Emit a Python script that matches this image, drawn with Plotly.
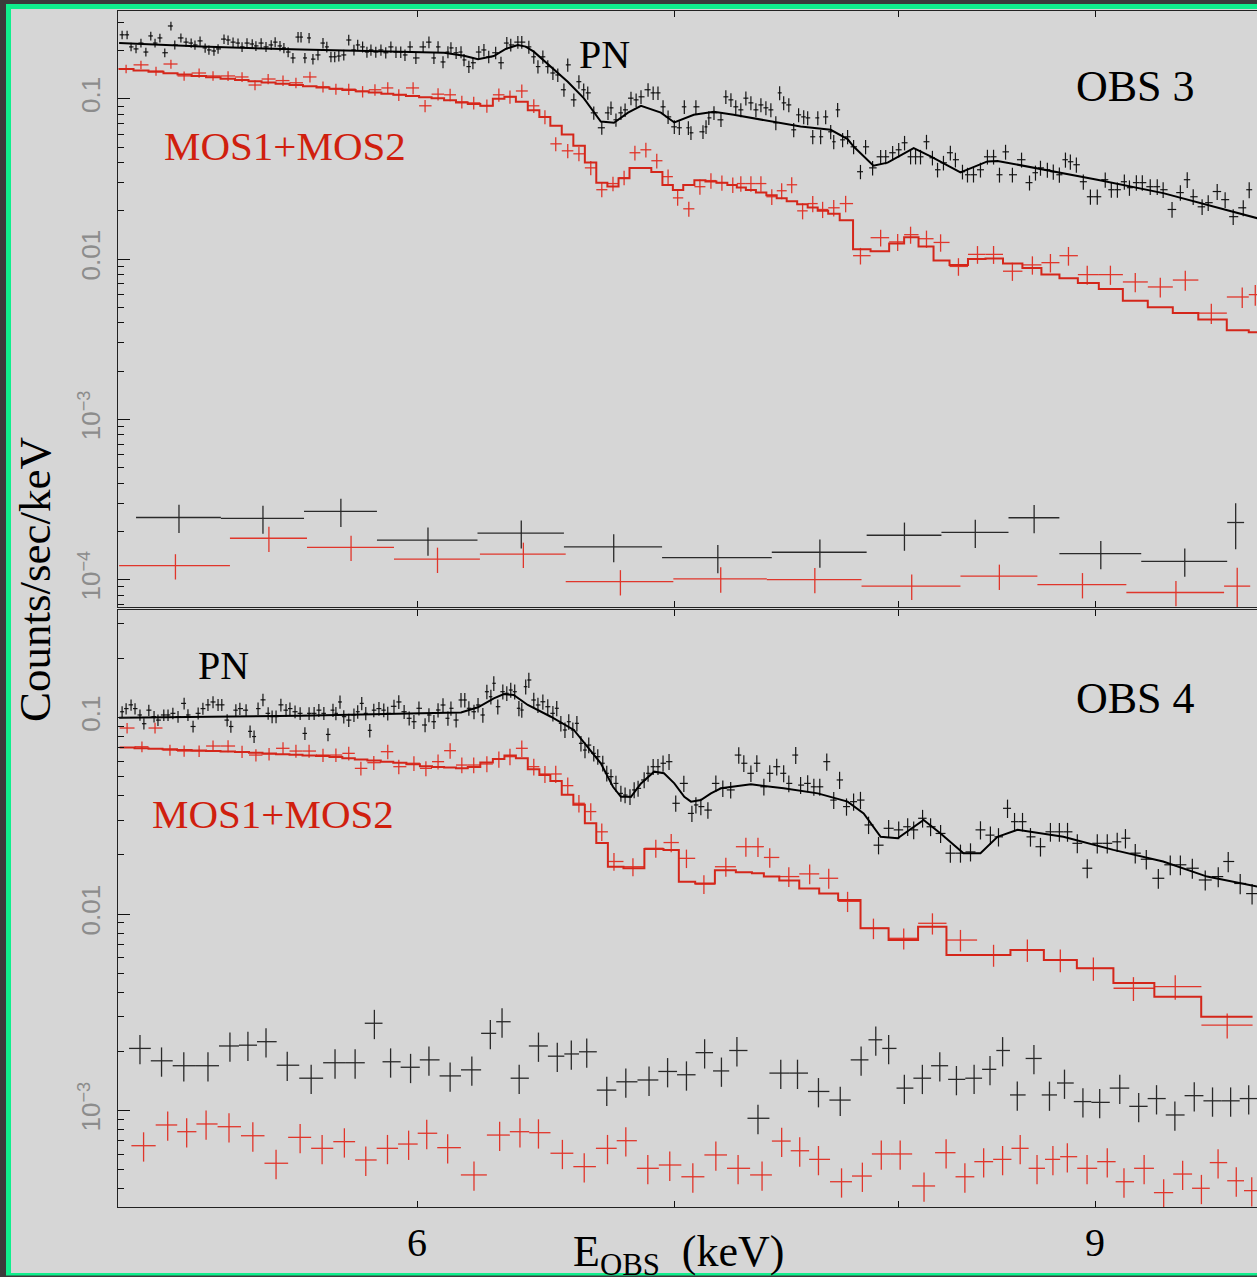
import numpy as np
import plotly.graph_objects as go

# ------------------------------------------------------------------ data
# OBS 3 (top panel) -------------------------------------------------------
obs3_pn_energy = [
    5.030, 5.045, 5.057, 5.072, 5.087, 5.102, 5.117, 5.130, 5.145, 5.160,
    5.179, 5.191, 5.210, 5.226, 5.242, 5.254, 5.270, 5.286, 5.298, 5.314,
    5.327, 5.346, 5.359, 5.375, 5.391, 5.404, 5.420, 5.437, 5.449, 5.466,
    5.482, 5.499, 5.512, 5.528, 5.541, 5.555, 5.571, 5.588, 5.598, 5.611,
    5.625, 5.638, 5.655, 5.672, 5.685, 5.699, 5.712, 5.726, 5.743, 5.760,
    5.778, 5.791, 5.808, 5.823, 5.837, 5.854, 5.872, 5.889, 5.907, 5.925,
    5.942, 5.957, 5.975, 5.996,
    6.022, 6.043, 6.061, 6.076, 6.094, 6.112, 6.123, 6.142, 6.160, 6.171,
    6.189, 6.204, 6.226, 6.245, 6.263, 6.289, 6.309, 6.331, 6.346, 6.373,
    6.388, 6.415, 6.434, 6.450, 6.469, 6.488, 6.508, 6.527, 6.551, 6.566,
    6.590, 6.610, 6.629, 6.645, 6.669, 6.701, 6.726, 6.738, 6.758, 6.778,
    6.795, 6.819, 6.840, 6.860, 6.889, 6.910, 6.930, 6.951, 6.972, 6.998,
    7.019, 7.040, 7.057, 7.068, 7.089, 7.119, 7.132, 7.144, 7.166, 7.196,
    7.217, 7.239, 7.260, 7.282, 7.304, 7.326, 7.348, 7.370, 7.392, 7.414,
    7.436, 7.453, 7.471, 7.494, 7.516, 7.538, 7.561, 7.579, 7.602, 7.625,
    7.638, 7.661, 7.684, 7.698, 7.716, 7.739, 7.762,
    7.790, 7.822, 7.846, 7.879, 7.917, 7.941, 7.974, 8.003, 8.031, 8.060,
    8.084, 8.108, 8.137, 8.166, 8.191, 8.220, 8.254, 8.279, 8.314, 8.339,
    8.369, 8.404, 8.439, 8.470, 8.500, 8.531, 8.566, 8.613, 8.654, 8.685,
    8.711, 8.747, 8.778, 8.810, 8.842, 8.868, 8.900, 8.937, 8.975, 9.012,
    9.055, 9.088, 9.121, 9.159, 9.187, 9.225, 9.258, 9.302, 9.341, 9.374,
    9.424, 9.471, 9.510, 9.544, 9.595, 9.630, 9.682, 9.728, 9.775, 9.834,
    9.869,
]
obs3_pn_rate = [
    0.251, 0.251, 0.211, 0.205, 0.223, 0.196, 0.247, 0.223, 0.240, 0.194,
    0.285, 0.217, 0.240, 0.226, 0.223, 0.217, 0.230, 0.208, 0.202, 0.199,
    0.205, 0.236, 0.233, 0.226, 0.223, 0.211, 0.223, 0.220, 0.214, 0.223,
    0.211, 0.217, 0.226, 0.214, 0.208, 0.196, 0.180, 0.243, 0.243, 0.180,
    0.240, 0.177, 0.188, 0.223, 0.211, 0.183, 0.183, 0.185, 0.188, 0.233,
    0.202, 0.217, 0.211, 0.196, 0.202, 0.196, 0.202, 0.194, 0.211, 0.196,
    0.196, 0.188, 0.211, 0.180,
    0.211, 0.226, 0.180, 0.211, 0.170, 0.196, 0.208, 0.194, 0.196, 0.175,
    0.159, 0.168, 0.196, 0.202, 0.183, 0.194, 0.168, 0.223, 0.217, 0.226,
    0.226, 0.211, 0.183, 0.159, 0.183, 0.159, 0.145, 0.141, 0.114, 0.163,
    0.0986, 0.128, 0.114, 0.109, 0.0818, 0.0660, 0.0818, 0.0879, 0.0740, 0.0818,
    0.0854, 0.101, 0.0986, 0.103, 0.114, 0.109, 0.109, 0.0892, 0.0772, 0.0669,
    0.0660, 0.0892, 0.0660, 0.0614, 0.0892, 0.0623, 0.0669, 0.0761, 0.0818, 0.0740,
    0.103, 0.0986, 0.0892, 0.0854, 0.101, 0.0944, 0.0854, 0.0917, 0.0879, 0.0854,
    0.0709, 0.109, 0.0944, 0.0917, 0.0641, 0.0795, 0.0772, 0.0761, 0.0580, 0.0761,
    0.0580, 0.0772, 0.0623, 0.0540, 0.0854, 0.0555, 0.0580,
    0.0502, 0.0351, 0.0502, 0.0371, 0.0435, 0.0435, 0.0461, 0.0481, 0.0532, 0.0435,
    0.0435, 0.0435, 0.0540, 0.0429, 0.0361, 0.0399, 0.0461, 0.0417, 0.0351, 0.0336,
    0.0336, 0.0361, 0.0435, 0.0435, 0.0336, 0.0467, 0.0336, 0.0417, 0.0300, 0.0346,
    0.0371, 0.0361, 0.0351, 0.0336, 0.0417, 0.0405, 0.0388, 0.0304, 0.0245, 0.0245,
    0.0313, 0.0271, 0.0271, 0.0304, 0.0279, 0.0300, 0.0300, 0.0283, 0.0283, 0.0271,
    0.0204, 0.0260, 0.0313, 0.0245, 0.0212, 0.0225, 0.0264, 0.0235, 0.0184, 0.0209,
    0.0271,
]
obs3_pn_model_energy = [
    5.021, 5.273, 5.598, 5.942, 6.098, 6.171, 6.223, 6.282, 6.327, 6.373,
    6.403, 6.434, 6.500, 6.566, 6.629, 6.697, 6.750, 6.807, 6.860, 6.942,
    6.998, 7.080, 7.166, 7.251, 7.547, 7.684, 7.762, 7.790, 7.883, 7.950,
    8.075, 8.157, 8.304, 8.439, 8.490, 9.012, 9.374, 9.916,
]
obs3_pn_model_rate = [
    0.223, 0.212, 0.203, 0.197, 0.194, 0.186, 0.177, 0.185, 0.205, 0.217,
    0.212, 0.197, 0.159, 0.128, 0.101, 0.0722, 0.0709, 0.082, 0.0905, 0.082,
    0.0712, 0.0795, 0.083, 0.0795, 0.0672, 0.0641, 0.0561, 0.0504, 0.0383, 0.040,
    0.0493, 0.0437, 0.0348, 0.0407, 0.041, 0.0313, 0.0258, 0.018,
]
obs3_mos_energy = [
    5.042, 5.087, 5.133, 5.179, 5.220, 5.267, 5.311, 5.359, 5.404, 5.446,
    5.489, 5.538, 5.581, 5.628, 5.672, 5.716, 5.760, 5.808, 5.851, 5.896,
    5.935, 5.986, 6.029, 6.076, 6.120, 6.163, 6.207, 6.256, 6.301, 6.343,
    6.388, 6.434, 6.477, 6.519, 6.566, 6.610, 6.657, 6.701, 6.746, 6.791,
    6.835, 6.880, 6.925, 6.972, 7.012, 7.059, 7.106, 7.153, 7.200, 7.247,
    7.282, 7.326, 7.370, 7.418, 7.462, 7.507, 7.556, 7.602, 7.647, 7.698,
    7.753, 7.822, 7.917, 7.998, 8.060, 8.137, 8.206, 8.294, 8.389, 8.470,
    8.566, 8.669, 8.763, 8.858, 8.958, 9.083, 9.219, 9.358, 9.499, 9.648,
    9.828, 9.905,
]
obs3_mos_rate = [
    0.154, 0.163, 0.149, 0.165, 0.139, 0.145, 0.139, 0.139, 0.137, 0.122,
    0.133, 0.130, 0.126, 0.137, 0.119, 0.115, 0.115, 0.111, 0.114, 0.117,
    0.106, 0.117, 0.0905, 0.107, 0.106, 0.0958, 0.0944, 0.0905, 0.106, 0.103,
    0.112, 0.0905, 0.0772, 0.0524, 0.0474, 0.0454, 0.0371, 0.0271, 0.0296, 0.0322,
    0.0461, 0.0481, 0.0411, 0.0327, 0.0241, 0.0206, 0.0283, 0.0309, 0.0300, 0.0291,
    0.0296, 0.0296, 0.0296, 0.0245, 0.0267, 0.0291, 0.0200, 0.0222, 0.0204, 0.0209,
    0.0222, 0.0105, 0.0136, 0.0128, 0.0142, 0.0134, 0.0127, 0.0090, 0.0107, 0.0107,
    0.0084, 0.0092, 0.0095, 0.0105, 0.0080, 0.0080, 0.0072, 0.0067, 0.0074, 0.0046,
    0.0058, 0.0060,
]
obs3_mos_model = [
    0.1535, 0.1504, 0.1474, 0.1444, 0.1419, 0.1390, 0.1365, 0.1337, 0.1312, 0.1289,
    0.1267, 0.1241, 0.1220, 0.1197, 0.1176, 0.1155, 0.1135, 0.1114, 0.1096, 0.1076,
    0.1061, 0.1041, 0.1025, 0.101, 0.098, 0.095, 0.093, 0.0905, 0.100, 0.103,
    0.096, 0.085, 0.077, 0.068, 0.060, 0.051, 0.040, 0.030, 0.0284, 0.032,
    0.037, 0.037, 0.035, 0.029, 0.027, 0.029, 0.031, 0.0305, 0.030, 0.029,
    0.028, 0.027, 0.026, 0.025, 0.024, 0.023, 0.022, 0.021, 0.020, 0.0192,
    0.0175, 0.0115, 0.0112, 0.0125, 0.0137, 0.0120, 0.0098, 0.0092, 0.0100, 0.0101,
    0.0094, 0.0088, 0.0080, 0.0076, 0.0071, 0.0065, 0.0055, 0.0050, 0.0046, 0.0042,
    0.0036, 0.0035,
]
obs3_pn_bkg_edges = [5.072, 5.336, 5.608, 5.858, 6.221, 6.551, 6.947, 7.418,
                     7.851, 8.210, 8.546, 8.810, 9.252, 9.740, 9.839]
obs3_pn_bkg_rate = [2.44e-4, 2.41e-4, 2.66e-4, 1.76e-4, 1.95e-4, 1.60e-4, 1.37e-4,
                    1.48e-4, 1.89e-4, 1.97e-4, 2.43e-4, 1.45e-4, 1.30e-4, 2.27e-4]
obs3_pn_bkg_relerr = [0.2, 0.2, 0.2, 0.2, 0.2, 0.2, 0.2, 0.2, 0.2, 0.2, 0.2, 0.2, 0.2, 0.32]
obs3_mos_bkg_edges = [5.021, 5.365, 5.618, 5.918, 6.230, 6.558, 6.994, 7.396,
                      7.827, 8.304, 8.695, 9.170, 9.722, 9.875]
obs3_mos_bkg_rate = [1.22e-4, 1.81e-4, 1.59e-4, 1.34e-4, 1.44e-4, 9.7e-5, 1.01e-4,
                     1.00e-4, 9.1e-5, 1.05e-4, 9.3e-5, 8.3e-5, 9.1e-5]
obs3_mos_bkg_relerr = [0.18, 0.18, 0.18, 0.18, 0.18, 0.18, 0.18, 0.18, 0.18, 0.18, 0.18, 0.18, 0.3]

# OBS 4 (bottom panel) ----------------------------------------------------
obs4_pn_energy = [
    5.030, 5.042, 5.057, 5.069, 5.084, 5.096, 5.111, 5.127, 5.139, 5.157,
    5.170, 5.185, 5.201, 5.220, 5.232, 5.248, 5.264, 5.279, 5.295, 5.311,
    5.327, 5.339, 5.356, 5.368, 5.384, 5.397, 5.417, 5.430, 5.443, 5.456,
    5.472, 5.489, 5.502, 5.515, 5.531, 5.548, 5.561, 5.578, 5.595, 5.611,
    5.625, 5.642, 5.658, 5.675, 5.689, 5.706, 5.716, 5.730, 5.743, 5.760,
    5.778, 5.791, 5.805, 5.819, 5.833, 5.847, 5.865, 5.882, 5.896, 5.918,
    5.935,
    5.954, 5.972, 5.989, 6.007, 6.029, 6.043, 6.061, 6.076, 6.094, 6.112,
    6.123, 6.142, 6.160, 6.174, 6.189, 6.208, 6.223, 6.241, 6.256, 6.271,
    6.282, 6.297, 6.316, 6.331, 6.346, 6.361, 6.377, 6.388, 6.403, 6.415,
    6.434, 6.450, 6.469, 6.488, 6.508, 6.523, 6.539, 6.555, 6.570, 6.586,
    6.602, 6.618, 6.634, 6.649, 6.669, 6.685, 6.705, 6.721, 6.738, 6.758,
    6.778, 6.795, 6.815, 6.832, 6.848, 6.873, 6.889, 6.910, 6.930, 6.951,
    6.976, 7.004, 7.038, 7.072, 7.089, 7.110, 7.140, 7.174, 7.204, 7.238,
    7.273, 7.295, 7.326, 7.352, 7.383, 7.409, 7.440, 7.471, 7.494, 7.525,
    7.547, 7.579, 7.607, 7.634, 7.666, 7.698, 7.725, 7.757, 7.790, 7.822,
    7.860, 7.907, 7.955, 8.003, 8.046, 8.075, 8.118, 8.157, 8.206, 8.254,
    8.304, 8.354, 8.404, 8.454, 8.495, 8.541, 8.577, 8.618, 8.659, 8.711,
    8.763, 8.810, 8.853, 8.905, 8.958, 9.012, 9.066, 9.120, 9.165, 9.219,
    9.280, 9.347, 9.414, 9.471, 9.539, 9.613, 9.688, 9.746, 9.816, 9.886,
]
obs4_pn_rate = [
    0.107, 0.111, 0.116, 0.111, 0.103, 0.093, 0.109, 0.101, 0.097, 0.103,
    0.103, 0.105, 0.101, 0.118, 0.103, 0.090, 0.105, 0.111, 0.116, 0.120,
    0.116, 0.116, 0.097, 0.090, 0.109, 0.111, 0.109, 0.085, 0.080, 0.111,
    0.123, 0.105, 0.101, 0.101, 0.116, 0.109, 0.111, 0.107, 0.105, 0.083,
    0.105, 0.105, 0.109, 0.105, 0.082, 0.109, 0.105, 0.120, 0.101, 0.097,
    0.103, 0.107, 0.118, 0.105, 0.086, 0.109, 0.111, 0.109, 0.105, 0.114,
    0.120,
    0.107, 0.0991, 0.0952, 0.1114, 0.0916, 0.1030, 0.0952, 0.1092, 0.1158, 0.0991,
    0.1114, 0.0971, 0.1228, 0.1228, 0.1114, 0.107, 0.1158, 0.1030, 0.1353, 0.1276,
    0.1493, 0.1135, 0.1353, 0.1328, 0.1380, 0.1353, 0.1114, 0.1092, 0.1435, 0.1552,
    0.1228, 0.1158, 0.1203, 0.1135, 0.1050, 0.1114, 0.0934, 0.0864, 0.0952, 0.0864,
    0.0934, 0.0739, 0.0683, 0.0724, 0.0657, 0.0632, 0.0585, 0.0520, 0.0500, 0.0462,
    0.0411, 0.0403, 0.0395, 0.0428, 0.0436, 0.0481, 0.0520, 0.0562, 0.0562, 0.0585,
    0.0596, 0.0366, 0.0462, 0.0325, 0.0359, 0.0352, 0.0338, 0.0462, 0.0436, 0.0428,
    0.0644, 0.0585, 0.0520, 0.0585, 0.0444, 0.0520, 0.0562, 0.0520, 0.0462, 0.0644,
    0.0453, 0.0462, 0.0444, 0.0444, 0.0596, 0.0380, 0.0481, 0.0352, 0.0373, 0.0380,
    0.0284, 0.0224, 0.0273, 0.0268, 0.0278, 0.0268, 0.0307, 0.0278, 0.0257, 0.0204,
    0.0204, 0.0207, 0.0268, 0.0252, 0.0247, 0.0345, 0.0295, 0.0295, 0.0247, 0.0220,
    0.0262, 0.0262, 0.0262, 0.0229, 0.0171, 0.0229, 0.0229, 0.0233, 0.0243, 0.0204,
    0.0190, 0.0152, 0.0178, 0.0178, 0.0171, 0.0149, 0.0155, 0.0185, 0.0143, 0.0127,
]
obs4_pn_model_energy = [
    5.021, 5.598, 6.014, 6.160, 6.223, 6.282, 6.320, 6.357, 6.411, 6.500,
    6.590, 6.645, 6.697, 6.746, 6.778, 6.819, 6.860, 6.914, 6.955, 6.998,
    7.040, 7.068, 7.110, 7.153, 7.196, 7.326, 7.471, 7.625, 7.762, 7.837,
    7.917, 7.998, 8.123, 8.206, 8.319, 8.404, 8.490, 8.592, 8.831, 9.099,
    9.374, 9.624, 9.916,
]
obs4_pn_model_rate = [
    0.0998, 0.102, 0.105, 0.106, 0.1127, 0.1252, 0.1317, 0.1301, 0.1158, 0.1009,
    0.0864, 0.0710, 0.0585, 0.0444, 0.0395, 0.0395, 0.0462, 0.0530, 0.052, 0.0462,
    0.0395, 0.0373, 0.038, 0.0411, 0.0436, 0.0457, 0.0436, 0.0411, 0.0373, 0.0325,
    0.0247, 0.0243, 0.0301, 0.0257, 0.0204, 0.0204, 0.0247, 0.0268, 0.0247, 0.0212,
    0.0185, 0.0155, 0.0138,
]
obs4_mos_energy = [
    5.045, 5.090, 5.130, 5.176, 5.220, 5.267, 5.311, 5.359, 5.404, 5.449,
    5.492, 5.538, 5.581, 5.625, 5.672, 5.716, 5.760, 5.802, 5.847, 5.896,
    5.935, 5.989, 6.032, 6.076, 6.120, 6.163, 6.207, 6.256, 6.301, 6.343,
    6.388, 6.434, 6.477, 6.519, 6.566, 6.610, 6.657, 6.701, 6.750, 6.827,
    6.921, 6.985, 7.049, 7.123, 7.217, 7.304, 7.357, 7.409, 7.494, 7.588,
    7.675, 7.762, 7.883, 8.027, 8.166, 8.304, 8.470, 8.643, 8.815, 8.991,
    9.209, 9.442, 9.740,
]
obs4_mos_rate = [
    0.0884, 0.0710, 0.0884, 0.0683, 0.0675, 0.0675, 0.0716, 0.0716, 0.0670, 0.0644,
    0.0652, 0.0697, 0.0675, 0.0675, 0.0644, 0.0644, 0.0657, 0.0551, 0.0589, 0.0670,
    0.0562, 0.0585, 0.0551, 0.0596, 0.0678, 0.0573, 0.0573, 0.0580, 0.0613, 0.0632,
    0.0697, 0.0562, 0.0516, 0.0516, 0.0450, 0.0366, 0.0332, 0.0262, 0.0185, 0.0174,
    0.0216, 0.0231, 0.0192, 0.0142, 0.0174, 0.0220, 0.0220, 0.0194, 0.0155, 0.0160,
    0.0152, 0.0116, 0.00846, 0.00752, 0.00897, 0.00737, 0.00618, 0.00656, 0.00583, 0.00529,
    0.00419, 0.00427, 0.00272,
]
obs4_mos_model = [
    0.0703, 0.0698, 0.0694, 0.0689, 0.0684, 0.0680, 0.0676, 0.0671, 0.0667, 0.0661,
    0.0656, 0.0651, 0.0646, 0.0641, 0.0636, 0.0629, 0.0620, 0.0612, 0.0604, 0.0595,
    0.0588, 0.0578, 0.0565, 0.0560, 0.0556, 0.0552, 0.0560, 0.0590, 0.0615, 0.0640,
    0.0620, 0.0545, 0.0510, 0.0475, 0.0405, 0.0360, 0.0290, 0.0230, 0.0174, 0.0171,
    0.0214, 0.0212, 0.0146, 0.0143, 0.0167, 0.0163, 0.0161, 0.0155, 0.0148, 0.0135,
    0.0127, 0.0118, 0.00846, 0.00737, 0.00862, 0.00618, 0.00618, 0.00656, 0.00583, 0.00529,
    0.00446, 0.00379, 0.00300,
]
obs4_pn_bkg_energy = [
    5.084, 5.150, 5.219, 5.295, 5.365, 5.423, 5.482, 5.552, 5.632, 5.713,
    5.782, 5.849, 5.906, 5.977, 6.043, 6.120, 6.200, 6.269, 6.313, 6.378,
    6.452, 6.525, 6.580, 6.641, 6.721, 6.798, 6.893, 6.970, 7.049, 7.126,
    7.198, 7.265, 7.357, 7.458, 7.533, 7.628, 7.728, 7.825, 7.894, 7.955,
    8.030, 8.117, 8.202, 8.284, 8.372, 8.452, 8.516, 8.591, 8.677, 8.758,
    8.837, 8.935, 9.025, 9.134, 9.238, 9.337, 9.440, 9.550, 9.655, 9.760,
    9.866,
]
obs4_pn_bkg_rate = [
    2.07e-3, 1.79e-3, 1.69e-3, 1.69e-3, 2.13e-3, 2.15e-3, 2.24e-3, 1.70e-3, 1.46e-3, 1.75e-3,
    1.75e-3, 2.78e-3, 1.77e-3, 1.66e-3, 1.81e-3, 1.50e-3, 1.61e-3, 2.47e-3, 2.83e-3, 1.46e-3,
    2.13e-3, 1.89e-3, 1.94e-3, 1.99e-3, 1.27e-3, 1.40e-3, 1.43e-3, 1.58e-3, 1.52e-3, 1.97e-3,
    1.59e-3, 2.02e-3, 9.13e-4, 1.55e-3, 1.55e-3, 1.25e-3, 1.13e-3, 1.81e-3, 2.29e-3, 2.07e-3,
    1.30e-3, 1.46e-3, 1.69e-3, 1.44e-3, 1.46e-3, 1.62e-3, 2.02e-3, 1.20e-3, 1.84e-3, 1.20e-3,
    1.38e-3, 1.11e-3, 1.10e-3, 1.30e-3, 1.05e-3, 1.15e-3, 9.49e-4, 1.19e-3, 1.12e-3, 1.12e-3,
    1.15e-3,
]
obs4_mos_bkg_energy = [
    5.095, 5.169, 5.228, 5.289, 5.362, 5.439, 5.515, 5.595, 5.669, 5.745,
    5.819, 5.895, 5.970, 6.035, 6.111, 6.208, 6.304, 6.381, 6.452, 6.545,
    6.631, 6.724, 6.798, 6.888, 6.979, 7.076, 7.174, 7.270, 7.375, 7.462,
    7.543, 7.628, 7.734, 7.831, 7.920, 8.010, 8.125, 8.233, 8.326, 8.420,
    8.516, 8.606, 8.693, 8.776, 8.852, 8.957, 9.066, 9.157, 9.268, 9.377,
    9.484, 9.591, 9.687, 9.793, 9.884,
]
obs4_mos_bkg_rate = [
    6.62e-4, 8.44e-4, 7.80e-4, 8.54e-4, 8.27e-4, 7.44e-4, 5.39e-4, 7.30e-4, 6.42e-4, 6.94e-4,
    5.60e-4, 6.42e-4, 6.75e-4, 7.66e-4, 6.47e-4, 4.70e-4, 7.50e-4, 7.80e-4, 7.71e-4, 6.06e-4,
    5.18e-4, 6.42e-4, 7.02e-4, 5.08e-4, 5.28e-4, 4.60e-4, 5.94e-4, 5.08e-4, 4.70e-4, 6.99e-4,
    6.24e-4, 5.64e-4, 4.34e-4, 4.64e-4, 6.01e-4, 6.01e-4, 4.13e-4, 6.10e-4, 4.60e-4, 5.49e-4,
    5.64e-4, 6.42e-4, 5.08e-4, 5.64e-4, 5.82e-4, 5.08e-4, 5.49e-4, 4.34e-4, 5.08e-4, 3.82e-4,
    4.75e-4, 4.02e-4, 5.43e-4, 4.39e-4, 3.91e-4,
]

# relative 1-sigma error of the counts, given at a few energies (keV, fraction)
err_energy_keV = [5.0, 6.5, 10.0]
obs3_pn_relerr = [0.06, 0.095, 0.115]
obs3_mos_relerr = [0.06, 0.10, 0.15]
obs4_pn_relerr = [0.065, 0.09, 0.12]
obs4_mos_relerr = [0.06, 0.10, 0.15]
obs4_bkg_relerr = 0.17

x_tick_values = [6, 7, 8, 9]
x_tick_text = ["6", "", "", "9"]
top_y_ticks = [1e-4, 1e-3, 1e-2, 1e-1]
top_y_text = ["10<sup>\u22124</sup>", "10<sup>\u22123</sup>", "0.01", "0.1"]
bot_y_ticks = [1e-3, 1e-2, 1e-1]
bot_y_text = ["10<sup>\u22123</sup>", "0.01", "0.1"]

# ------------------------------------------------------------------ layout constants
W, H = 1257, 1277
ML, MR, MT, MB = 118, 0, 11, 70
PW, PH = W - ML - MR, H - MT - MB


def pxx(p):
    return (p - ML) / PW


def pxy(p):
    return (H - MB - p) / PH


BG = "#d6d6d6"
BLACK = "#141414"
RED = "#e0362b"
RED_MODEL = "#d4261a"
RED_TEXT = "#d01f0e"
SERIF = "Liberation Serif, Times New Roman, serif"
SANS = "Liberation Sans, Arial, sans-serif"


def halfwidths(e):
    e = np.asarray(e, float)
    mids = (e[1:] + e[:-1]) / 2
    lo = np.concatenate([[e[0] - (mids[0] - e[0])], mids])
    hi = np.concatenate([mids, [e[-1] + (e[-1] - mids[-1])]])
    return e - lo, hi - e


def cross_trace(e, v, rel, color, xa, ya, thick=1.3, xlo=None, xhi=None):
    e = np.asarray(e, float)
    v = np.asarray(v, float)
    if xlo is None:
        xlo, xhi = halfwidths(e)
    err = v * np.asarray(rel, float)
    return go.Scatter(
        x=e, y=v, mode="markers", xaxis=xa, yaxis=ya,
        marker=dict(size=1, color=color),
        error_x=dict(type="data", symmetric=False, array=xhi, arrayminus=xlo,
                     width=0, thickness=thick, color=color),
        error_y=dict(type="data", symmetric=False, array=err, arrayminus=err,
                     width=0, thickness=thick, color=color),
        showlegend=False, hoverinfo="skip",
    )


def edge_trace(edges, v, rel, color, xa, ya):
    edges = np.asarray(edges, float)
    c = (edges[1:] + edges[:-1]) / 2
    return cross_trace(c, v, rel, color, xa, ya, thick=1.3,
                       xlo=c - edges[:-1], xhi=edges[1:] - c)


def step_model(e, m, color, xa, ya):
    e = np.asarray(e, float)
    lo, hi = halfwidths(e)
    xs = np.concatenate([[e[0] - lo[0]], e, [e[-1] + hi[-1]]])
    ys = np.concatenate([[m[0]], m, [m[-1]]])
    return go.Scatter(x=xs, y=ys, mode="lines", line=dict(color=color, width=2, shape="hvh"),
                      xaxis=xa, yaxis=ya, showlegend=False, hoverinfo="skip")


def line_model(e, m, color, xa, ya):
    return go.Scatter(x=e, y=m, mode="lines", line=dict(color=color, width=2),
                      xaxis=xa, yaxis=ya, showlegend=False, hoverinfo="skip")


for a, b in [(obs3_pn_energy, obs3_pn_rate), (obs3_mos_energy, obs3_mos_rate),
             (obs3_mos_energy, obs3_mos_model), (obs4_pn_energy, obs4_pn_rate),
             (obs4_mos_energy, obs4_mos_rate), (obs4_mos_energy, obs4_mos_model),
             (obs4_pn_bkg_energy, obs4_pn_bkg_rate), (obs4_mos_bkg_energy, obs4_mos_bkg_rate),
             (obs3_pn_model_energy, obs3_pn_model_rate), (obs4_pn_model_energy, obs4_pn_model_rate)]:
    assert len(a) == len(b), (len(a), len(b))

fig = go.Figure()

# top panel (OBS 3): axes x2 / y2
fig.add_trace(edge_trace(obs3_pn_bkg_edges, obs3_pn_bkg_rate, obs3_pn_bkg_relerr, "#2a2a2a", "x2", "y2"))
fig.add_trace(edge_trace(obs3_mos_bkg_edges, obs3_mos_bkg_rate, obs3_mos_bkg_relerr, RED, "x2", "y2"))
fig.add_trace(cross_trace(obs3_mos_energy, obs3_mos_rate,
                          np.interp(obs3_mos_energy, err_energy_keV, obs3_mos_relerr), RED, "x2", "y2"))
fig.add_trace(cross_trace(obs3_pn_energy, obs3_pn_rate,
                          np.interp(obs3_pn_energy, err_energy_keV, obs3_pn_relerr), BLACK, "x2", "y2", thick=1.2))
fig.add_trace(step_model(obs3_mos_energy, obs3_mos_model, RED_MODEL, "x2", "y2"))
fig.add_trace(line_model(obs3_pn_model_energy, obs3_pn_model_rate, "#000000", "x2", "y2"))

# bottom panel (OBS 4): axes x / y
fig.add_trace(cross_trace(obs4_pn_bkg_energy, obs4_pn_bkg_rate,
                          [obs4_bkg_relerr] * len(obs4_pn_bkg_rate), "#2a2a2a", "x", "y"))
fig.add_trace(cross_trace(obs4_mos_bkg_energy, obs4_mos_bkg_rate,
                          [obs4_bkg_relerr] * len(obs4_mos_bkg_rate), RED, "x", "y"))
fig.add_trace(cross_trace(obs4_mos_energy, obs4_mos_rate,
                          np.interp(obs4_mos_energy, err_energy_keV, obs4_mos_relerr), RED, "x", "y"))
fig.add_trace(cross_trace(obs4_pn_energy, obs4_pn_rate,
                          np.interp(obs4_pn_energy, err_energy_keV, obs4_pn_relerr), BLACK, "x", "y", thick=1.2))
fig.add_trace(step_model(obs4_mos_energy, obs4_mos_model, RED_MODEL, "x", "y"))
fig.add_trace(line_model(obs4_pn_model_energy, obs4_pn_model_rate, "#000000", "x", "y"))

x_range = [0.7005, 0.9963]
xcommon = dict(type="log", range=x_range, tickmode="array", tickvals=x_tick_values,
               ticktext=x_tick_text, ticks="inside", ticklen=6, tickwidth=1.2,
               tickcolor="#111", showline=True, linecolor="#222", linewidth=1.3,
               mirror="ticks", showgrid=False, zeroline=False,
               tickfont=dict(family=SERIF, size=40, color="#000"))


def minor_vals(lo_exp, hi_exp):
    out = []
    for ex in range(lo_exp, hi_exp + 1):
        for k in range(2, 10):
            out.append(k * 10.0 ** ex)
    return out


ycommon = dict(type="log", tickmode="array", ticks="inside", ticklen=12, tickwidth=1.2,
               tickcolor="#111", showline=True, linecolor="#222", linewidth=1.3,
               mirror=False, showgrid=False, zeroline=False, tickangle=-90,
               tickfont=dict(family=SANS, size=26, color="#8c8c8c"),
               ticklabelstandoff=6)

fig.update_layout(
    width=W, height=H, autosize=False,
    margin=dict(l=ML, r=MR, t=MT, b=MB, pad=0),
    paper_bgcolor="#3b3b3b", plot_bgcolor="rgba(0,0,0,0)",
    xaxis=dict(xcommon, anchor="y", domain=[0, 1], ticklabelstandoff=0),
    xaxis2=dict(xcommon, anchor="y2", domain=[0, 1], matches="x", showticklabels=False),
    yaxis=dict(ycommon, anchor="x", domain=[0, pxy(610)], range=[-3.4911, -0.4529],
               tickvals=bot_y_ticks, ticktext=bot_y_text,
               minor=dict(tickmode="array", tickvals=minor_vals(-4, -1), ticks="inside",
                          ticklen=6, tickwidth=1.1, tickcolor="#111", showgrid=False)),
    yaxis2=dict(ycommon, anchor="x2", domain=[pxy(607), 1], range=[-4.1713, -0.4517],
                tickvals=top_y_ticks, ticktext=top_y_text,
                minor=dict(tickmode="array", tickvals=minor_vals(-5, -1), ticks="inside",
                           ticklen=6, tickwidth=1.1, tickcolor="#111", showgrid=False)),
    shapes=[
        dict(type="rect", xref="paper", yref="paper", x0=pxx(6), x1=pxx(1265),
             y0=pxy(1275.5), y1=pxy(4), fillcolor="#10ef8d", line=dict(width=0), layer="below"),
        dict(type="rect", xref="paper", yref="paper", x0=pxx(11), x1=pxx(1265),
             y0=pxy(1273), y1=pxy(9), fillcolor=BG, line=dict(width=0), layer="below"),
    ],
)

annotations = [
    dict(text="PN", x=pxx(604), y=pxy(54), font=dict(family=SERIF, size=40, color="#000")),
    dict(text="MOS1+MOS2", x=pxx(285), y=pxy(146), font=dict(family=SERIF, size=41, color=RED_TEXT)),
    dict(text="OBS 3", x=pxx(1135), y=pxy(87), font=dict(family=SERIF, size=44, color="#000")),
    dict(text="PN", x=pxx(223), y=pxy(665), font=dict(family=SERIF, size=40, color="#000")),
    dict(text="MOS1+MOS2", x=pxx(273), y=pxy(814), font=dict(family=SERIF, size=41, color=RED_TEXT)),
    dict(text="OBS 4", x=pxx(1135), y=pxy(698), font=dict(family=SERIF, size=44, color="#000")),
    dict(text="Counts/sec/keV", x=pxx(35), y=pxy(580), textangle=-90,
         font=dict(family=SERIF, size=45, color="#000")),
    dict(text="E<sub>OBS</sub>  (keV)", x=pxx(678), y=pxy(1254),
         font=dict(family=SERIF, size=44, color="#000")),
]
for a in annotations:
    a.update(xref="paper", yref="paper", xanchor="center", yanchor="middle", showarrow=False)
fig.update_layout(annotations=annotations)

fig.write_html("out.html")
